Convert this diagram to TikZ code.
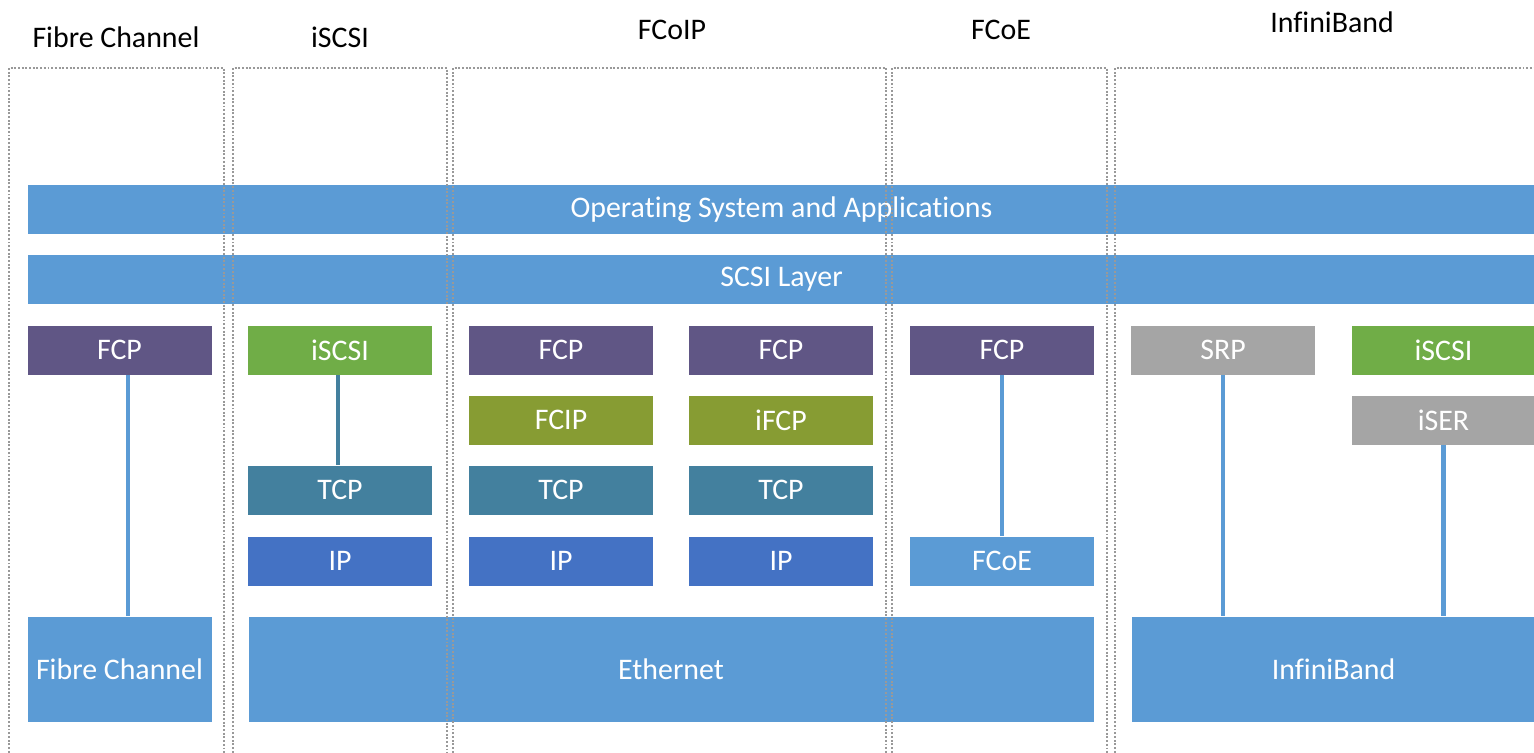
\documentclass[tikz,border=0pt]{standalone}
\usepackage{fontspec}
\setmainfont[Ligatures=NoCommon]{Carlito}
\usepackage{xcolor}
\usetikzlibrary{positioning,calc}
\definecolor{barblue}{HTML}{5B9BD5}
\definecolor{fcppurple}{HTML}{605685}
\definecolor{iscsigreen}{HTML}{70AD47}
\definecolor{fcipolive}{HTML}{879C33}
\definecolor{tcpteal}{HTML}{43809E}
\definecolor{ipblue}{HTML}{4472C4}
\definecolor{ibgray}{HTML}{A5A5A5}

\begin{document}
\begin{tikzpicture}[x=0.02cm,y=-0.02cm,
  layer/.style={fill=#1,draw=white,line width=0.4pt,text=white,minimum width=3.7cm,minimum height=1cm,inner sep=0pt,font=\fontsize{17}{20}\selectfont},
  title/.style={text=black,inner sep=0pt,font=\fontsize{17}{20}\selectfont},
  zone/.style={draw=gray!80,densely dotted,line width=1.1pt},
  link/.style={line width=2.8pt,draw=#1}]
\useasboundingbox (0,0) rectangle (1534,753);
% shared layers
\node[layer=barblue,minimum width=30.18cm] (os) at (781.5,209.5) {Operating System and Applications};
\node[layer=barblue,minimum width=30.18cm] (scsi) at (781.5,279.5) {SCSI Layer};
% Fibre Channel
\node[layer=fcppurple] (fcp1) at (119.5,350) {FCP};
\node[layer=barblue,minimum height=2.12cm] (fc) at (119.5,669) {Fibre Channel};
% iSCSI
\node[layer=iscsigreen] (iscsi1) at (340,350) {iSCSI};
\node[layer=tcpteal] (tcp1) at (340,490) {TCP};
\node[layer=ipblue] (ip1) at (340,561) {IP};
% FCoIP
\node[layer=fcppurple] (fcp2) at (561,350) {FCP};
\node[layer=fcipolive] (fcip) at (561,420) {FCIP};
\node[layer=tcpteal] (tcp2) at (561,490) {TCP};
\node[layer=ipblue] (ip2) at (561,561) {IP};
\node[layer=fcppurple] (fcp3) at (781,350) {FCP};
\node[layer=fcipolive] (ifcp) at (781,420) {iFCP};
\node[layer=tcpteal] (tcp3) at (781,490) {TCP};
\node[layer=ipblue] (ip3) at (781,561) {IP};
% FCoE
\node[layer=fcppurple] (fcp4) at (1002,350) {FCP};
\node[layer=barblue] (fcoe) at (1002,561) {FCoE};
\node[layer=barblue,minimum width=16.92cm,minimum height=2.12cm] (eth) at (671,669) {Ethernet};
% InfiniBand
\node[layer=ibgray] (srp) at (1223,350) {SRP};
\node[layer=iscsigreen] (iscsi2) at (1443.5,350) {iSCSI};
\node[layer=ibgray] (iser) at (1443.5,420) {iSER};
\node[layer=barblue,minimum width=8.1cm,minimum height=2.12cm] (ib) at (1333.5,669) {InfiniBand};

\draw[link=barblue] ([xshift=0.17cm]fcp1.south) -- ([xshift=0.17cm]fcp1.south |- fc.north);
\draw[link=tcpteal] ([xshift=-0.04cm]iscsi1.south) -- ([xshift=-0.04cm]tcp1.north);
\draw[link=barblue] (fcp4.south) -- (fcoe.north);
\draw[link=barblue] (srp.south) -- (srp.south |- ib.north);
\draw[link=barblue] (iser.south) -- (iser.south |- ib.north);

% dotted zones
\draw[zone] (9,760) |- (224,68) -- (224,760);
\draw[zone] (233,760) |- (447,68) -- (447,760);
\draw[zone] (453,760) |- (886,68) -- (886,760);
\draw[zone] (892,760) |- (1107,68) -- (1107,760);
\draw[zone] (1115,760) |- (1540,68);
\node[title] (tfc) at (116,37) {Fibre Channel};
\node[title] (tiscsi) at (340,37) {iSCSI};
\node[title] (tfcoip) at (672,30) {FCoIP};
\node[title] (tfcoe) at (1001,30) {FCoE};
\node[title] (tib) at (1332,22) {InfiniBand};
\end{tikzpicture}
\end{document}
